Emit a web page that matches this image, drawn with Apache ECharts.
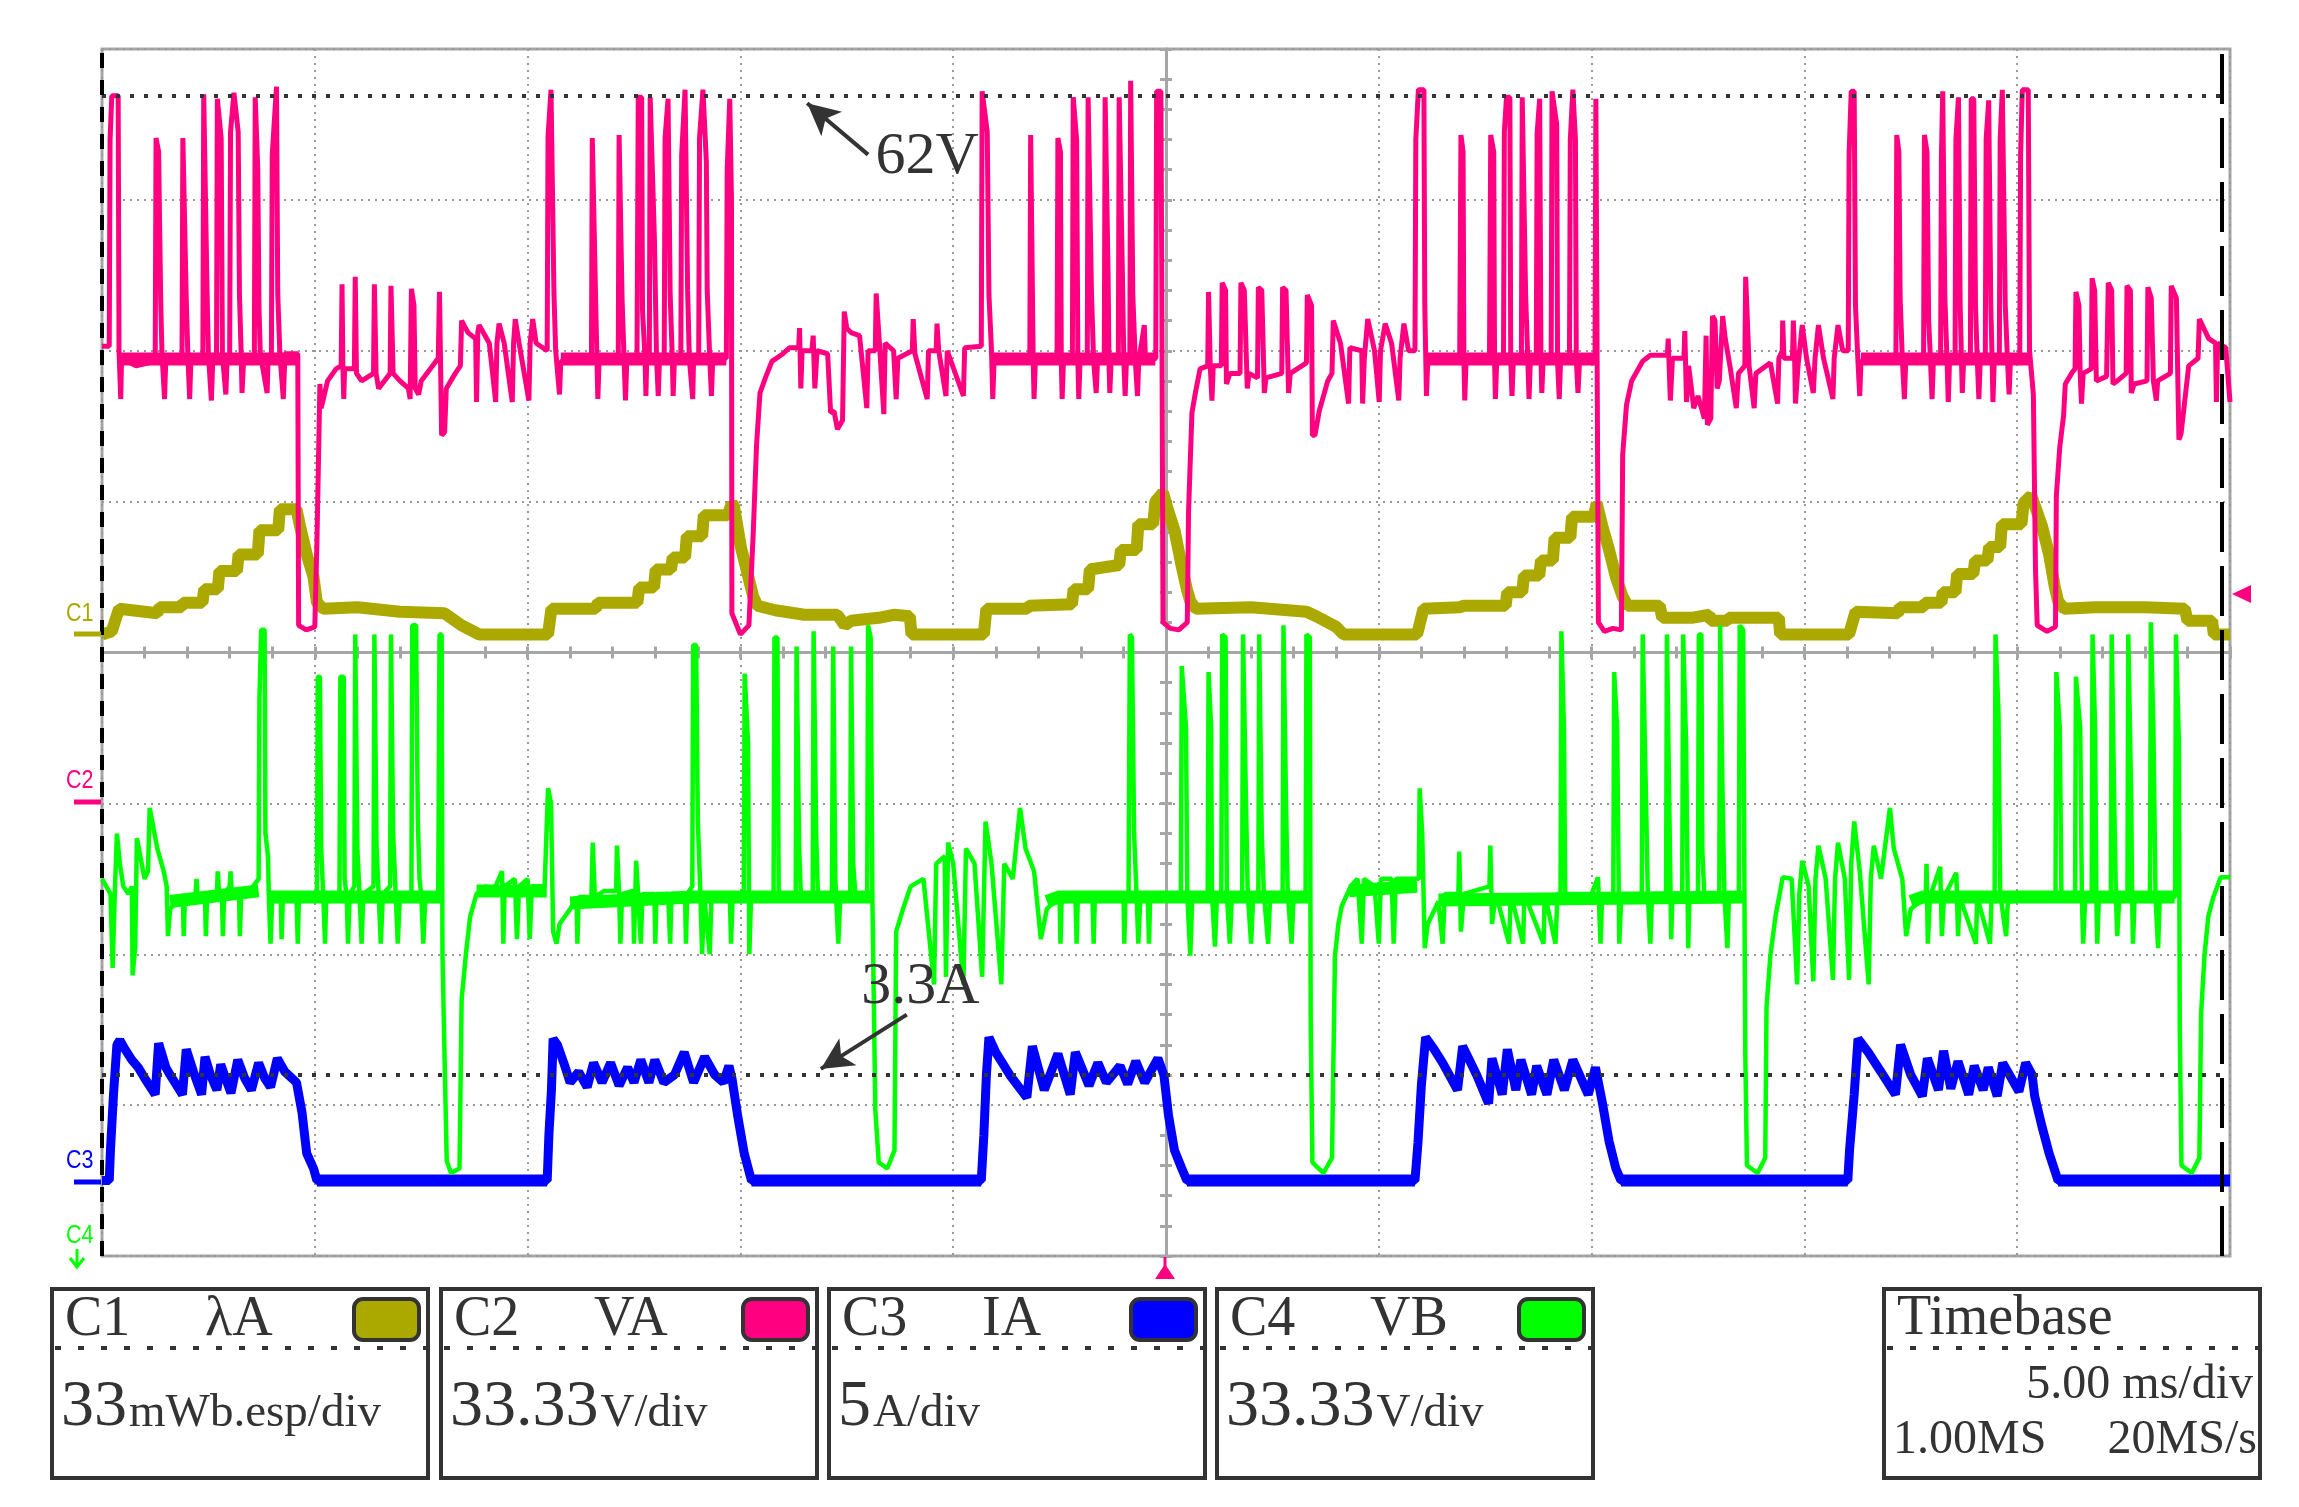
<!DOCTYPE html>
<html>
<head>
<meta charset="utf-8">
<script src="https://cdn.jsdelivr.net/npm/echarts@6.0.0/dist/echarts.min.js"></script>
<style>
html, body { margin: 0; padding: 0; background: #fff; }
#scope { width: 2299px; height: 1507px; }
</style>
</head>
<body>
<div id="scope"></div>
<script>
// x: time in ms from the left edge of the screen (5 ms/div), y: level in divisions from the centre line

// C2 - VA (pink)
const vaTrace = [
  [0,2.03],[0.17,2.03],[0.19,3.4],[0.23,3.69],[0.38,3.69],[0.40,2.0],[0.44,1.68],[0.46,1.95],[0.8,1.9],[1.25,1.93],[1.27,3.41],[1.33,3.32],[1.38,2.32],[1.41,1.98],[1.47,1.68],[1.5,1.95],[1.88,1.95],[1.9,3.41],[1.98,2.34],[2.02,1.95],[2.06,1.68],[2.09,1.95],[2.37,1.97],[2.39,3.7],[2.47,2.37],[2.5,1.98],[2.57,1.67],[2.6,1.92],[2.69,1.95],[2.71,3.67],[2.8,3.41],[2.83,1.97],[2.91,1.71],[2.94,1.95],[3.0,1.97],[3.02,3.45],[3.1,3.71],[3.2,3.45],[3.23,2.37],[3.27,1.98],[3.29,1.72],[3.33,1.95],[3.58,1.95],[3.6,3.68],[3.66,3.2],[3.69,2.27],[3.72,1.98],[3.88,1.72],[3.9,1.93],[3.98,1.95],[4.0,3.3],[4.1,3.75],[4.13,2.37],[4.18,1.98],[4.26,1.68],[4.3,1.98],[4.6,1.98],[4.62,0.18],[4.8,0.15],[5.0,0.17],[5.05,0.73],[5.12,1.78],[5.15,1.62],[5.3,1.8],[5.5,1.88],[5.62,1.9],[5.64,2.44],[5.66,1.9],[5.68,1.68],[5.7,1.88],[5.93,1.88],[5.95,2.49],[5.98,1.85],[6.1,1.8],[6.38,1.85],[6.4,2.44],[6.44,1.85],[6.5,1.75],[6.77,1.85],[6.79,2.43],[6.84,1.85],[7.0,1.8],[7.2,1.75],[7.24,1.68],[7.27,2.41],[7.33,2.3],[7.36,1.75],[7.44,1.71],[7.5,1.8],[7.9,1.95],[7.93,2.39],[7.98,1.44],[8.05,1.46],[8.09,1.75],[8.3,1.85],[8.42,1.9],[8.45,2.2],[8.6,2.12],[8.78,2.08],[8.8,1.66],[8.83,2.12],[8.86,2.17],[9.1,2.05],[9.25,1.66],[9.28,2.05],[9.33,2.18],[9.45,2.05],[9.64,1.66],[9.67,2.05],[9.71,2.21],[9.8,2.05],[10.03,1.67],[10.06,2.05],[10.12,2.21],[10.2,2.05],[10.46,2.0],[10.48,3.42],[10.55,3.73],[10.62,2.37],[10.66,2.0],[10.75,1.71],[10.78,1.93],[11.5,1.93],[11.52,3.41],[11.6,2.32],[11.65,1.68],[11.68,1.93],[12.13,1.93],[12.15,3.43],[12.22,2.34],[12.3,1.67],[12.33,1.93],[12.57,1.95],
  [12.6,3.68],[12.68,3.68],[12.7,2.27],[12.76,1.95],[12.78,1.7],[12.8,1.95],[12.86,1.95],[12.88,3.68],[12.98,2.74],[13.03,1.95],[13.07,1.7],[13.1,1.95],[13.21,1.95],[13.23,3.41],[13.3,3.67],[13.35,2.37],[13.4,1.95],[13.42,1.7],[13.45,1.95],[13.6,1.95],[13.62,3.3],[13.7,3.73],[13.76,2.4],[13.8,1.95],[13.88,1.68],[13.9,1.95],[14.02,1.95],[14.04,3.41],[14.12,3.73],[14.2,3.25],[14.22,2.4],[14.28,1.95],[14.32,1.7],[14.35,1.95],[14.67,1.95],[14.69,3.2],[14.75,3.67],[14.79,3.0],[14.8,0.26],[15.0,0.12],[15.2,0.18],[15.3,0.78],[15.38,1.38],[15.46,1.72],[15.6,1.83],[15.74,1.93],[16.0,1.98],[16.15,2.02],[16.37,2.02],[16.39,2.15],[16.42,1.75],[16.45,2.0],[16.68,2.0],[16.71,2.1],[16.75,1.75],[16.8,2.0],[17.05,1.98],[17.12,1.59],[17.2,1.6],[17.28,1.48],[17.4,1.54],[17.44,2.26],[17.5,2.15],[17.6,2.12],[17.8,2.1],[17.97,1.62],[18.0,2.0],[18.17,2.0],[18.19,2.38],[18.25,2.12],[18.37,1.58],[18.4,2.05],[18.6,2.0],[18.66,1.68],[18.7,1.95],[19.04,2.0],[19.06,2.21],[19.1,1.98],[19.39,1.68],[19.42,2.0],[19.6,2.0],[19.62,2.18],[19.66,2.0],[19.83,1.7],[19.86,2.0],[20.24,1.7],[20.27,2.02],[20.66,2.03],[20.68,3.72],[20.8,3.45],[20.84,2.37],[20.9,2.0],[20.93,1.68],[20.96,1.93],[21.8,1.93],[21.82,3.43],[21.86,3.43],[21.88,1.93],[21.9,1.68],[21.93,1.93],[22.44,1.93],[22.46,3.41],[22.52,3.32],[22.54,1.93],[22.56,1.68],[22.59,1.93],[22.8,1.93],[22.82,3.68],[22.9,3.4],[22.93,1.93],[22.95,1.68],[22.98,1.93],[23.15,1.93],[23.17,3.68],[23.25,2.37],[23.3,1.93],[23.36,1.72],[23.39,1.93],[23.55,1.93],[23.57,3.68],[23.64,2.5],[23.66,1.93],[23.68,1.72],[23.71,1.93],[23.88,1.93],[23.9,3.68],[23.97,2.6],[24.01,1.93],[24.04,1.7],[24.07,1.93],[24.15,1.93],[24.17,3.79],[24.22,2.37],[24.28,1.93],[24.33,1.7],[24.36,1.93],[24.49,2.17],[24.52,1.93],[24.76,1.95],[24.78,3.72],[24.88,3.72],[24.9,2.5],[24.93,0.2],
  [25.1,0.16],[25.3,0.15],[25.5,0.2],[25.53,0.94],[25.61,1.59],[25.69,1.72],[25.8,1.88],[25.98,1.9],[26.0,2.39],[26.04,1.9],[26.08,1.67],[26.11,1.9],[26.3,1.9],[26.32,2.45],[26.4,2.4],[26.42,1.78],[26.5,1.85],[26.74,1.85],[26.76,2.45],[26.84,2.4],[26.91,1.75],[26.95,1.85],[27.15,1.82],[27.17,2.42],[27.25,2.4],[27.31,1.72],[27.35,1.82],[27.72,1.85],[27.74,2.42],[27.82,2.4],[27.88,1.72],[27.92,1.85],[28.3,1.92],[28.32,2.37],[28.42,2.3],[28.44,1.44],[28.5,1.44],[28.6,1.6],[28.8,1.8],[28.9,1.85],[28.93,2.2],[29.1,2.05],[29.29,1.65],[29.32,2.02],[29.6,2.0],[29.62,1.65],[29.66,1.95],[29.74,2.21],[29.9,2.0],[30.01,1.66],[30.04,2.0],[30.15,2.18],[30.3,2.05],[30.47,1.67],[30.5,1.95],[30.59,2.18],[30.7,2.0],[30.85,2.0],[30.87,3.4],[30.93,3.73],[31.06,3.73],[31.08,2.31],[31.1,2.0],[31.12,1.7],[31.15,1.93],[31.9,1.93],[31.93,3.43],[31.98,3.32],[32.0,1.93],[32.02,1.67],[32.05,1.93],[32.6,1.93],[32.63,3.43],[32.7,3.32],[32.72,1.93],[32.74,1.68],[32.77,1.93],[32.93,1.95],[32.95,3.45],[33.0,3.68],[33.08,3.68],[33.1,1.95],[33.13,1.7],[33.16,1.93],[33.35,1.93],[33.37,3.68],[33.45,2.37],[33.5,1.95],[33.53,1.68],[33.56,1.93],[33.7,1.93],[33.72,3.44],[33.78,3.67],[33.81,1.95],[33.83,1.72],[33.86,1.93],[34.05,1.93],[34.07,3.72],[34.18,3.5],[34.2,1.93],[34.24,1.68],[34.27,1.93],[34.48,1.95],[34.5,3.4],[34.56,3.73],[34.62,3.4],[34.64,1.95],[34.68,1.72],[34.72,1.95],[35.08,1.93],[35.1,3.67],[35.14,3.67],[35.16,0.2],[35.3,0.14],[35.5,0.16],[35.7,0.15],[35.73,1.31],[35.82,1.64],[35.94,1.8],[36.2,1.93],[36.38,1.97],[36.78,1.97],[36.8,2.08],[36.85,1.67],[36.9,1.95],[37.17,1.95],[37.19,2.13],[37.23,1.66],[37.28,1.9],[37.4,1.62],
  [37.5,1.7],[37.65,1.55],[37.69,2.1],[37.72,1.51],[37.8,1.55],[37.84,2.23],[37.9,2.2],[37.95,1.75],[38.0,1.8],[38.08,2.23],[38.14,2.08],[38.25,1.9],[38.4,1.62],[38.45,1.85],[38.6,1.9],[38.62,2.49],[38.66,2.2],[38.7,1.9],[38.82,1.62],[38.86,1.85],[39.2,1.92],[39.37,1.65],[39.4,1.95],[39.48,2.0],[39.49,2.2],[39.52,1.95],[39.72,1.95],[39.74,2.2],[39.77,1.95],[39.79,1.65],[39.85,1.9],[39.95,2.17],[40.05,1.95],[40.21,1.72],[40.25,1.95],[40.33,2.17],[40.45,1.95],[40.67,1.68],[40.7,1.95],[40.79,2.17],[40.9,2.0],[41.03,2.0],[41.05,3.3],[41.1,3.72],[41.17,3.72],[41.2,2.3],[41.25,1.98],[41.3,1.7],[41.33,1.93],[42.15,1.93],[42.17,3.43],[42.22,3.32],[42.25,2.35],[42.3,1.95],[42.35,1.68],[42.38,1.93],[42.8,1.93],[42.82,3.43],[42.88,3.32],[42.92,2.2],[42.96,1.95],[43.0,1.68],[43.03,1.93],[43.2,1.93],[43.22,3.3],[43.25,3.72],[43.3,2.35],[43.35,1.95],[43.38,1.66],[43.41,1.93],[43.54,1.93],[43.56,3.4],[43.62,3.68],[43.66,2.3],[43.69,1.95],[43.71,1.72],[43.74,1.93],[43.9,1.93],[43.92,3.67],[43.98,3.67],[44.02,2.3],[44.06,1.95],[44.1,1.68],[44.13,1.93],[44.25,1.93],[44.27,3.4],[44.33,3.66],[44.38,2.3],[44.41,1.95],[44.43,1.66],[44.46,1.93],[44.58,1.93],[44.6,3.4],[44.65,3.73],[44.72,2.3],[44.77,1.95],[44.81,1.71],[44.84,1.93],[45.06,1.95],[45.08,3.3],[45.12,3.73],[45.26,3.73],[45.29,2.0],[45.38,1.71],[45.43,0.55],[45.47,0.18],[45.7,0.14],[45.9,0.17],[45.92,1.04],[46.0,1.36],[46.09,1.57],[46.13,1.78],[46.3,1.86],[46.36,1.88],[46.38,2.39],[46.45,2.3],[46.48,1.85],[46.51,1.65],[46.55,1.85],[46.74,1.88],[46.76,2.48],[46.82,2.4],[46.86,1.8],[47.1,1.83],[47.14,2.45],[47.22,2.4],[47.25,1.78],[47.35,1.8],[47.56,1.85],[47.58,2.43],[47.66,2.4],[47.68,1.72],[47.75,1.78],[48.05,1.8],[48.07,2.42],[48.15,2.35],[48.2,1.8],[48.27,1.67],[48.3,1.8],[48.6,1.85],[48.62,2.43],[48.74,2.35],[48.8,1.41],[48.85,1.45],[48.95,1.7],[49.03,1.9],[49.25,1.95],[49.28,2.21],[49.5,2.08],[49.66,2.05],[49.68,1.66],[49.71,2.05],[49.9,2.02],[50,1.66]
];
// thick noisy plateau of VA between the pulse bursts
const vaBand = [
  [[0.45,1.945],[4.58,1.945]],
  [[10.78,1.945],[14.67,1.945]],
  [[20.95,1.945],[24.75,1.945]],
  [[31.15,1.945],[35.08,1.945]],
  [[41.33,1.945],[45.3,1.945]]
];

// C1 - lambda A (olive)
const lambdaTrace = [
  [0,0.12],[0.23,0.14],[0.4,0.29],[1.3,0.26],[1.35,0.3],[1.87,0.3],[1.9,0.33],[2.36,0.33],[2.4,0.42],[2.72,0.42],[2.76,0.54],[3.17,0.54],[3.21,0.65],[3.66,0.65],[3.7,0.81],[4.14,0.81],[4.18,0.95],[4.57,0.95],[4.65,0.84],[4.81,0.65],[4.97,0.5],[5.05,0.33],[5.2,0.29],[6.0,0.3],[7.0,0.27],[8.05,0.26],[8.45,0.18],[8.86,0.12],[10.48,0.12],[10.56,0.29],[11.6,0.29],[11.65,0.33],[12.5,0.33],
  [12.58,0.33],[12.62,0.43],[12.97,0.43],[13.01,0.55],[13.37,0.55],[13.41,0.63],[13.7,0.63],[13.74,0.77],[14.1,0.77],[14.14,0.91],[14.7,0.91],[14.8,0.99],[14.85,0.97],[15.01,0.7],[15.17,0.52],[15.3,0.37],[15.4,0.31],[15.82,0.28],[16.5,0.25],[17.28,0.25],[17.45,0.18],[17.6,0.21],[18.25,0.23],[18.6,0.25],[18.98,0.24],[19.02,0.12],[20.72,0.12],[20.78,0.29],[21.74,0.29],[21.78,0.31],[22.79,0.32],[22.83,0.42],[23.17,0.42],[23.21,0.55],[23.9,0.58],[23.94,0.68],[24.31,0.68],[24.35,0.85],[24.7,0.85],[24.75,1.0],[24.93,1.06],
  [25.04,0.95],[25.2,0.81],[25.37,0.57],[25.49,0.42],[25.57,0.34],[25.7,0.29],[27.0,0.3],[28.3,0.27],[28.53,0.24],[29.0,0.17],[29.17,0.12],[30.9,0.12],[31.05,0.29],[31.9,0.3],[32.0,0.31],[32.98,0.31],[33.02,0.4],[33.37,0.4],[33.41,0.51],[33.77,0.51],[33.81,0.61],[34.09,0.61],[34.13,0.76],[34.5,0.76],[34.54,0.9],[35.05,0.9],[35.12,0.99],[35.25,0.84],[35.41,0.68],[35.57,0.5],[35.73,0.37],[35.85,0.31],[36.6,0.31],[36.66,0.23],[37.35,0.23],
  [37.77,0.25],[37.8,0.21],[38.19,0.21],[38.22,0.23],[39.4,0.23],[39.43,0.12],[41.05,0.12],[41.2,0.27],[42.2,0.26],[42.24,0.3],[42.8,0.3],[42.83,0.33],[43.22,0.33],[43.25,0.4],[43.55,0.4],[43.59,0.52],[43.97,0.52],[44.01,0.61],[44.3,0.61],[44.34,0.7],[44.6,0.7],[44.64,0.85],[45.1,0.85],[45.15,0.99],[45.33,1.04],[45.58,0.84],[45.75,0.65],[45.88,0.44],[45.96,0.34],[46.1,0.29],[46.84,0.3],[48.0,0.3],[48.94,0.29],[49.0,0.21],[49.58,0.21],[49.62,0.12],[50,0.12]
];

// C3 - IA (blue)
const iaTrace = [
  [0,-3.5],[0.17,-3.5],[0.2,-3.29],[0.27,-2.93],[0.35,-2.6],[0.42,-2.57],[0.52,-2.62],[0.7,-2.7],[0.85,-2.75],[1.0,-2.82],[1.25,-2.93],[1.33,-2.59],[1.5,-2.75],[1.6,-2.8],[1.89,-2.93],[1.98,-2.63],[2.15,-2.78],[2.34,-2.93],[2.42,-2.68],[2.55,-2.8],[2.7,-2.9],[2.79,-2.73],[2.9,-2.82],[3.03,-2.92],[3.19,-2.7],[3.35,-2.82],[3.51,-2.9],[3.68,-2.72],[3.82,-2.82],[3.96,-2.88],[4.12,-2.69],[4.3,-2.78],[4.57,-2.85],[4.7,-3.05],[4.81,-3.32],[4.97,-3.42],[5.05,-3.5],[10.46,-3.5],[10.5,-3.2],[10.56,-2.9],[10.6,-2.56],[10.7,-2.6],[10.85,-2.72],[11.0,-2.85],
  [11.2,-2.78],[11.4,-2.88],[11.55,-2.72],[11.75,-2.85],[11.95,-2.72],[12.15,-2.87],[12.35,-2.75],[12.5,-2.85],[12.66,-2.7],[12.85,-2.85],[12.99,-2.7],[13.2,-2.85],[13.45,-2.8],[13.68,-2.65],[13.9,-2.85],[14.16,-2.68],[14.4,-2.8],[14.6,-2.85],[14.73,-2.74],[14.8,-2.82],[14.93,-3.06],[15.09,-3.32],[15.26,-3.5],[20.66,-3.5],[20.72,-3.2],[20.78,-2.8],[20.84,-2.55],[21.0,-2.65],[21.33,-2.8],[21.73,-2.95],[21.86,-2.61],[22.14,-2.9],[22.46,-2.66],[22.75,-2.93],[22.87,-2.65],[23.19,-2.87],[23.4,-2.72],[23.6,-2.85],[23.92,-2.74],[24.1,-2.86],[24.29,-2.71],[24.5,-2.85],[24.81,-2.69],[24.95,-2.8],[25.06,-3.07],
  [25.2,-3.3],[25.37,-3.42],[25.49,-3.5],[30.85,-3.5],[30.92,-3.25],[31.0,-2.87],[31.1,-2.55],[31.3,-2.63],[31.5,-2.72],[31.85,-2.9],[31.97,-2.61],[32.3,-2.8],[32.58,-2.99],[32.66,-2.69],[32.9,-2.93],[33.02,-2.63],[33.22,-2.9],[33.34,-2.7],[33.59,-2.93],[33.71,-2.74],[33.95,-2.93],[34.11,-2.7],[34.36,-2.9],[34.56,-2.7],[34.92,-2.93],[35.09,-2.75],[35.25,-2.98],[35.41,-3.24],[35.57,-3.42],[35.69,-3.5],
  [41.02,-3.5],[41.06,-3.3],[41.17,-2.93],[41.26,-2.56],[41.5,-2.65],[41.8,-2.78],[42.14,-2.93],[42.26,-2.6],[42.5,-2.8],[42.77,-2.94],[42.89,-2.69],[43.15,-2.9],[43.27,-2.64],[43.44,-2.89],[43.61,-2.71],[43.86,-2.93],[43.99,-2.74],[44.2,-2.9],[44.32,-2.75],[44.53,-2.94],[44.66,-2.72],[45.04,-2.91],[45.2,-2.72],[45.35,-2.8],[45.41,-2.94],[45.58,-3.14],[45.75,-3.32],[45.96,-3.5],[50,-3.5]
];
const iaBand = [
  [[5.05,-3.5],[10.46,-3.5]],
  [[15.26,-3.5],[20.66,-3.5]],
  [[25.49,-3.5],[30.85,-3.5]],
  [[35.69,-3.5],[41.02,-3.5]],
  [[45.96,-3.5],[50,-3.5]]
];

// C4 - VB (green)
const vbTrace = [
  [0,-1.5],[0.1,-1.55],[0.2,-1.6],[0.25,-2.09],[0.3,-1.6],[0.35,-1.2],[0.42,-1.4],[0.5,-1.55],[0.62,-1.6],[0.7,-1.55],[0.72,-2.14],[0.78,-1.95],[0.82,-1.23],[0.9,-1.35],[1.0,-1.5],[1.08,-1.45],[1.12,-1.03],[1.2,-1.15],[1.3,-1.3],[1.45,-1.45],[1.52,-1.55],[1.55,-1.88],[1.6,-1.7],[1.8,-1.64],[1.9,-1.62],[1.92,-1.88],[1.95,-1.62],[2.2,-1.6],[2.22,-1.5],[2.25,-1.62],[2.42,-1.62],[2.44,-1.88],[2.47,-1.62],[2.7,-1.58],[2.72,-1.45],[2.75,-1.6],[2.82,-1.62],[2.84,-1.88],[2.87,-1.6],[3.0,-1.55],[3.02,-1.45],[3.05,-1.6],[3.22,-1.62],[3.24,-1.88],[3.27,-1.6],[3.55,-1.55],[3.68,-1.5],[3.7,-0.3],[3.74,0.15],[3.82,0.15],[3.84,-1.2],[3.9,-1.35],[3.92,-1.62],[3.96,-1.93],[4.0,-1.62],[4.2,-1.62],[4.22,-1.9],[4.25,-1.62],[4.57,-1.62],[4.6,-1.93],[4.63,-1.6],[5.05,-1.62],[5.07,-0.16],[5.12,-0.16],[5.15,-1.3],[5.2,-1.62],[5.24,-1.93],[5.27,-1.6],[5.58,-1.6],[5.6,-0.16],[5.68,-0.16],[5.7,-1.5],[5.75,-1.62],[5.78,-1.93],[5.82,-1.6],[5.93,-1.55],[5.95,0.12],[6.0,-1.3],[6.05,-1.6],[6.1,-1.93],[6.14,-1.6],[6.38,-1.55],[6.4,0.12],[6.45,-1.28],[6.5,-1.6],[6.55,-1.93],[6.6,-1.6],[6.77,-1.55],[6.79,0.12],[6.84,-1.2],[6.9,-1.6],[6.95,-1.93],[7.0,-1.6],[7.27,-1.6],[7.29,0.18],[7.38,0.18],[7.42,-1.1],[7.46,-1.5],[7.5,-1.6],[7.55,-1.93],[7.6,-1.6],[7.9,-1.6],[7.93,0.12],[7.98,0.12],[8.0,-2.0],[8.05,-2.7],[8.1,-3.37],[8.2,-3.45],[8.4,-3.42],[8.45,-2.3],[8.55,-2.0],[8.65,-1.75],[8.8,-1.6],[9.0,-1.55],[9.2,-1.58],[9.4,-1.45],[9.43,-1.93],[9.46,-1.55],[9.7,-1.5],[9.75,-1.9],[9.8,-1.55],[10.0,-1.5],[10.05,-1.9],[10.1,-1.55],[10.4,-1.55],[10.48,-0.9],[10.55,-1.0],[10.6,-1.85],[10.68,-1.93],[10.75,-1.8],[11.0,-1.7],[11.15,-1.62],[11.17,-1.93],[11.2,-1.62],[11.5,-1.62],[11.53,-1.26],[11.58,-1.62],[11.8,-1.58],[12.08,-1.58],[12.1,-1.28],[12.15,-1.6],[12.18,-1.93],[12.22,-1.6],[12.48,-1.58],[12.5,-1.93],[12.55,-1.38],
  [12.6,-1.62],[12.66,-1.93],[12.7,-1.6],[12.98,-1.6],[13.0,-1.93],[13.03,-1.6],[13.3,-1.6],[13.35,-1.93],[13.38,-1.6],[13.7,-1.6],[13.72,-1.93],[13.75,-1.6],[13.87,-1.55],[13.89,0.05],[13.96,0.05],[14.0,-1.12],[14.06,-1.6],[14.1,-2.0],[14.15,-1.62],[14.28,-2.0],[14.32,-1.62],[14.75,-1.6],[14.78,-1.93],[14.82,-1.6],[15.08,-1.6],[15.1,-0.14],[15.18,-0.6],[15.21,-2.0],[15.25,-1.62],[15.78,-1.6],[15.8,0.1],[15.87,0.1],[15.9,-1.6],[16.3,-1.6],[16.32,0.04],[16.38,-1.3],[16.42,-1.6],[16.7,-1.6],[16.72,0.14],[16.78,-1.2],[16.82,-1.6],[17.15,-1.6],[17.18,0.04],[17.23,-1.5],[17.3,-1.93],[17.35,-1.6],[17.58,-1.6],[17.6,0.04],[17.65,-1.4],[17.7,-1.6],[17.98,-1.6],[18.0,0.18],[18.06,0.1],[18.1,-1.6],[18.17,-3.03],[18.25,-3.38],[18.45,-3.42],[18.62,-3.3],[18.66,-1.85],[18.82,-1.7],[19.0,-1.55],[19.3,-1.5],[19.55,-2.2],[19.6,-1.4],[19.8,-1.35],[19.83,-2.15],[19.88,-1.26],[20.0,-1.4],[20.24,-2.2],[20.3,-1.3],[20.5,-1.4],[20.68,-2.15],[20.76,-1.12],[20.9,-1.4],[21.13,-2.2],[21.2,-1.4],[21.4,-1.5],[21.57,-1.03],[21.7,-1.3],[21.9,-1.45],[22.06,-1.9],[22.2,-1.7],[22.5,-1.62],[22.52,-1.93],[22.55,-1.62],[22.87,-1.6],[22.9,-1.93],[22.93,-1.6],[23.27,-1.6],[23.3,-1.93],[23.33,-1.6],[24.0,-1.6],[24.02,-1.93],[24.05,-1.6],[24.12,-1.6],[24.15,0.12],[24.2,0.1],[24.25,-1.2],[24.3,-1.55],[24.35,-1.93],[24.4,-1.6],[24.57,-1.6],[24.6,-1.93],[24.63,-1.6],
  [24.9,-1.6],[25.35,-1.6],[25.37,-0.09],[25.47,-0.5],[25.5,-1.6],[25.57,-2.01],[25.62,-1.6],[25.98,-1.6],[26.0,-0.13],[26.06,-0.5],[26.08,-1.6],[26.15,-1.95],[26.2,-1.6],[26.3,-1.6],[26.32,0.12],[26.4,0.1],[26.43,-1.6],[26.5,-1.93],[26.55,-1.6],[26.79,-1.6],[26.81,0.12],[26.88,-1.0],[26.92,-1.6],[27.0,-1.93],[27.05,-1.6],[27.17,-1.6],[27.19,0.12],[27.25,-1.2],[27.3,-1.6],[27.4,-1.93],[27.45,-1.6],[27.74,-1.6],[27.76,0.18],[27.82,-1.0],[27.86,-1.6],[27.95,-1.93],[28.0,-1.6],[28.28,-1.6],[28.3,0.12],[28.38,0.1],[28.4,-2.46],[28.44,-3.38],[28.7,-3.45],[28.9,-3.35],[28.97,-2.01],[29.05,-1.8],[29.13,-1.68],[29.34,-1.55],[29.5,-1.5],[29.6,-1.93],[29.65,-1.5],[29.9,-1.55],[30.0,-1.93],[30.05,-1.5],[30.3,-1.5],[30.35,-1.93],[30.4,-1.5],[30.94,-1.5],[30.96,-0.9],[31.02,-1.2],[31.08,-1.96],[31.15,-1.8],[31.4,-1.65],[31.5,-1.93],[31.55,-1.6],[31.87,-1.6],[31.89,-1.32],[31.93,-1.85],[32.0,-1.6],[32.6,-1.55],[32.62,-1.28],[32.66,-1.8],[32.75,-1.6],[33.06,-1.93],[33.1,-1.6],[33.39,-1.93],[33.42,-1.6],[33.87,-1.93],[33.9,-1.6],[34.15,-1.93],[34.2,-1.6],[34.27,-1.6],[34.29,0.14],[34.35,-0.5],[34.38,-1.6],[34.6,-1.6],[35.0,-1.6],[35.15,-1.49],[35.21,-1.93],[35.25,-1.6],[35.51,-1.6],[35.53,-0.13],[35.6,-0.5],[35.65,-1.93],[35.7,-1.6],[36.18,-1.6],[36.2,0.12],[36.28,-1.0],[36.32,-1.6],[36.38,-1.93],[36.42,-1.6],[36.75,-1.6],[36.77,0.12],[36.83,-1.1],[36.87,-1.9],[36.9,-1.6],[37.13,-1.6],[37.15,0.12],[37.22,-0.6],[37.27,-1.96],[37.3,-1.6],[37.5,-1.6],[37.52,0.12],
  [37.58,0.12],[37.6,-1.3],[37.65,-1.62],[38.0,-1.62],[38.02,0.18],[38.08,-1.0],[38.12,-1.6],[38.19,-1.96],[38.23,-1.6],[38.46,-1.6],[38.48,0.18],[38.56,0.15],[38.61,-2.64],[38.65,-3.4],[38.9,-3.45],[39.08,-3.35],[39.11,-2.35],[39.2,-2.01],[39.32,-1.75],[39.49,-1.49],[39.7,-1.5],[39.83,-2.2],[39.88,-1.6],[39.95,-1.38],[40.1,-1.55],[40.21,-2.18],[40.26,-1.5],[40.33,-1.28],[40.5,-1.5],[40.67,-2.17],[40.72,-1.5],[40.79,-1.26],[40.95,-1.5],[41.05,-2.17],[41.1,-1.4],[41.17,-1.12],[41.3,-1.45],[41.51,-2.2],[41.56,-1.5],[41.63,-1.28],[41.8,-1.5],[42.01,-1.03],[42.1,-1.3],[42.3,-1.5],[42.39,-1.88],[42.5,-1.7],[42.85,-1.62],[42.87,-1.4],[42.9,-1.93],[42.95,-1.62],[43.19,-1.42],[43.23,-1.88],[43.28,-1.62],[43.57,-1.46],[43.61,-1.88],[43.65,-1.62],[44.03,-1.93],[44.06,-1.62],[44.36,-1.93],[44.4,-1.62],[44.47,-1.6],[44.49,0.12],[44.56,-0.4],[44.6,-1.6],[44.74,-1.88],[44.78,-1.65],[45.9,-1.62],[45.92,-0.13],[46.0,-0.5],[46.04,-1.62],[46.36,-1.62],[46.38,-0.16],[46.48,-0.5],[46.52,-1.62],[46.55,-1.93],[46.6,-1.62],[46.75,-1.62],[46.77,0.12],[46.83,-0.5],[46.86,-1.62],[46.88,-1.93],[46.92,-1.62],[47.2,-1.62],[47.22,0.12],[47.28,-1.0],[47.32,-1.62],[47.35,-1.88],[47.4,-1.62],[47.59,-1.62],[47.61,0.12],[47.68,-1.0],[47.7,-1.62],[47.72,-1.93],[47.76,-1.62],[48.12,-1.62],[48.14,0.2],[48.2,-0.5],[48.25,-1.62],[48.31,-1.96],[48.35,-1.62],[48.71,-1.62],[48.73,0.12],[48.8,-0.6],[48.82,-2.5],[48.86,-3.4],[49.1,-3.45],[49.28,-3.35],[49.32,-2.4],[49.4,-2.01],[49.49,-1.75],[49.61,-1.62],[49.78,-1.49],[50,-1.49]
];
// thick noisy plateau of VB
const vbBand = [
  [[1.6,-1.65],[3.68,-1.58]],
  [[3.9,-1.62],[7.95,-1.62]],
  [[8.8,-1.58],[10.45,-1.58]],
  [[11.0,-1.66],[13.87,-1.62],[18.1,-1.62]],
  [[22.2,-1.65],[22.5,-1.62],[28.35,-1.62]],
  [[29.3,-1.58],[30.9,-1.55]],
  [[31.4,-1.64],[38.55,-1.62]],
  [[42.5,-1.65],[42.8,-1.62],[48.7,-1.62]]
];

// reference levels drawn as dotted lines: 62 V on VA, 3.3 A on IA
const refLevels = [3.69, -2.8];
const refLabels = ['62V', '3.3A'];
const refLabelAt = [[18.16, 3.28], [17.83, -2.22]];
const refArrows = [[[18.0, 3.30], [16.57, 3.64]], [[18.91, -2.40], [16.89, -2.76]]];
// dashed cursors at screen edges
const cursorTimes = [0, 49.8];

// channel info panel
const channelNames = ['C1', 'C2', 'C3', 'C4'];
const channelSignals = ['λA', 'VA', 'IA', 'VB'];
const channelScales = ['33', '33.33', '5', '33.33'];
const channelUnits = ['mWb.esp/div', 'V/div', 'A/div', 'V/div'];
const channelColors = ['#aba800', '#ff0080', '#0000ff', '#00ff00'];
const timebaseLines = ['Timebase', '5.00 ms/div', '1.00MS', '20MS/s'];

function joinSegments(segs) {
  const out = [];
  segs.forEach(s => { s.forEach(p => out.push(p)); out.push([null, null]); });
  return out;
}

const SERIF = '"Liberation Serif", "Times New Roman", serif';
const measureCtx = document.createElement('canvas').getContext('2d');
function textWidth(s, size) {
  measureCtx.font = size + 'px ' + SERIF;
  return measureCtx.measureText(s).width;
}
function serifText(x, baseline, s, size, align) {
  return {
    type: 'text', x: x, y: baseline - 0.34 * size, z: 100,
    style: { text: s, font: size + 'px ' + SERIF, fill: '#333', align: align || 'left', verticalAlign: 'middle' }
  };
}

const graphics = [];
const boxLeft = [52, 441, 829, 1217];
boxLeft.forEach((x0, i) => {
  graphics.push({ type: 'rect', z: 90, shape: { x: x0, y: 1289, width: 376, height: 189 }, style: { fill: '#fff', stroke: '#333', lineWidth: 4 } });
  graphics.push({ type: 'line', z: 91, shape: { x1: x0 + 3, y1: 1348, x2: x0 + 374, y2: 1348 }, style: { stroke: '#333', lineWidth: 4, lineDash: [6, 17] } });
  graphics.push(serifText(x0 + 13, 1339, channelNames[i], 56));
  graphics.push(serifText(x0 + 153, 1339, channelSignals[i], 56));
  graphics.push({ type: 'rect', z: 92, shape: { x: x0 + 302, y: 1299, width: 65, height: 41, r: 9 }, style: { fill: channelColors[i], stroke: '#333', lineWidth: 4 } });
  const w = textWidth(channelScales[i], 66);
  graphics.push(serifText(x0 + 9, 1430, channelScales[i], 66));
  graphics.push(serifText(x0 + 11 + w, 1430, channelUnits[i], 47));
});
// timebase box
graphics.push({ type: 'rect', z: 90, shape: { x: 1884, y: 1289, width: 376, height: 189 }, style: { fill: '#fff', stroke: '#333', lineWidth: 4 } });
graphics.push({ type: 'line', z: 91, shape: { x1: 1887, y1: 1348, x2: 2258, y2: 1348 }, style: { stroke: '#333', lineWidth: 4, lineDash: [6, 17] } });
graphics.push(serifText(1897, 1338, timebaseLines[0], 56));
graphics.push(serifText(2253, 1402, timebaseLines[1], 48, 'right'));
graphics.push(serifText(1893, 1457, timebaseLines[2], 48));
graphics.push(serifText(2257, 1457, timebaseLines[3], 48, 'right'));

// channel ground markers on the left
const markerY = [634, 802, 1182];
const labelY = [614, 781, 1161, 1236];
channelNames.forEach((n, i) => {
  graphics.push({ type: 'text', x: 66, y: labelY[i], scaleX: 0.86, z: 100,
    style: { text: n, font: '25px "Liberation Sans", Arial, sans-serif', fill: channelColors[i], verticalAlign: 'middle' } });
  if (i < 3) {
    graphics.push({ type: 'line', z: 100, shape: { x1: 74, y1: markerY[i], x2: 101, y2: markerY[i] }, style: { stroke: channelColors[i], lineWidth: 5 } });
  }
});
graphics.push({ type: 'line', z: 100, shape: { x1: 77, y1: 1249, x2: 77, y2: 1266 }, style: { stroke: '#00ff00', lineWidth: 3 } });
graphics.push({ type: 'polyline', z: 100, shape: { points: [[70, 1258], [77, 1267], [84, 1258]] }, style: { stroke: '#00ff00', lineWidth: 3, fill: null } });
// trigger markers
graphics.push({ type: 'polygon', z: 100, shape: { points: [[2232, 594], [2251, 585], [2251, 603]] }, style: { fill: '#ff0080' } });
graphics.push({ type: 'line', z: 100, shape: { x1: 1165, y1: 1257, x2: 1165, y2: 1268 }, style: { stroke: '#ff0080', lineWidth: 3 } });
graphics.push({ type: 'polygon', z: 100, shape: { points: [[1165, 1264], [1175, 1279], [1155, 1279]] }, style: { fill: '#ff0080' } });

const gridColor = '#a6a6a6';
const tickStyle = { color: gridColor, width: 3 };
function xAxisOf(pos, withSplit) {
  return {
    type: 'value', position: pos, min: 0, max: 50, interval: 5,
    axisLine: { show: true, onZero: true, onZeroAxisIndex: 0, lineStyle: { color: gridColor, width: 3 } },
    axisTick: { show: true, length: 6, lineStyle: tickStyle },
    minorTick: { show: true, splitNumber: 5, length: 6, lineStyle: tickStyle },
    axisLabel: { show: false },
    splitLine: { show: withSplit, lineStyle: { color: '#999', width: 2, type: [2, 5] } }
  };
}
function yAxisOf(pos, withSplit) {
  return {
    type: 'value', position: pos, min: -4, max: 4, interval: 1, offset: -1064,
    axisLine: { show: true, onZero: false, lineStyle: { color: gridColor, width: 3 } },
    axisTick: { show: true, length: 6, lineStyle: tickStyle },
    minorTick: { show: true, splitNumber: 5, length: 6, lineStyle: tickStyle },
    axisLabel: { show: false },
    splitLine: { show: withSplit, lineStyle: { color: '#999', width: 2, type: [2, 5] } }
  };
}
function trace(name, data, color, width) {
  return {
    name: name, type: 'line', data: data, symbol: 'none', showSymbol: false, silent: true,
    lineStyle: { color: color, width: width, join: 'bevel', cap: 'butt' }, connectNulls: false
  };
}

const lambdaSeries = trace('λA', lambdaTrace, channelColors[0], 12);
lambdaSeries.markLine = {
  silent: true, symbol: ['none', 'none'], label: { show: false }, animation: false,
  data: [
    { yAxis: refLevels[0], lineStyle: { color: '#333', width: 4, type: [4, 10] } },
    { yAxis: refLevels[1], lineStyle: { color: '#333', width: 4, type: [4, 10] } },
    { xAxis: cursorTimes[0], lineStyle: { color: '#000', width: 4, type: [15, 12] } },
    { xAxis: cursorTimes[1], lineStyle: { color: '#000', width: 4, type: [50, 14] } },
    [{ coord: refArrows[0][0], symbol: 'none', lineStyle: { color: '#333', width: 4, type: 'solid' } },
     { coord: refArrows[0][1], symbol: 'arrow', symbolSize: [24, 32] }],
    [{ coord: refArrows[1][0], symbol: 'none', lineStyle: { color: '#333', width: 4, type: 'solid' } },
     { coord: refArrows[1][1], symbol: 'arrow', symbolSize: [24, 32] }]
  ]
};
lambdaSeries.markPoint = {
  silent: true, animation: false, symbol: 'circle', symbolSize: 1,
  itemStyle: { color: 'rgba(0,0,0,0)' },
  label: { show: true, position: 'right', distance: 0, formatter: '{b}', color: '#333', fontSize: 60, fontFamily: SERIF },
  data: refLabels.map((t, i) => ({ name: t, coord: refLabelAt[i] }))
};

const option = {
  animation: false,
  backgroundColor: '#fff',
  grid: { left: 102, top: 49, width: 2128, height: 1207, show: true, borderColor: gridColor, borderWidth: 3, outerBoundsMode: 'none' },
  xAxis: [xAxisOf('bottom', true), xAxisOf('top', false)],
  yAxis: [yAxisOf('left', true), yAxisOf('right', false)],
  series: [
    lambdaSeries,
    trace('VA band', joinSegments(vaBand), channelColors[1], 13),
    trace('VA', vaTrace, channelColors[1], 5),
    trace('IA band', joinSegments(iaBand), channelColors[2], 12),
    trace('IA', iaTrace, channelColors[2], 9),
    trace('VB band', joinSegments(vbBand), channelColors[3], 13),
    trace('VB', vbTrace, channelColors[3], 4.5)
  ],
  graphic: graphics
};

const chart = echarts.init(document.getElementById('scope'));
chart.setOption(option);
</script>
</body>
</html>
